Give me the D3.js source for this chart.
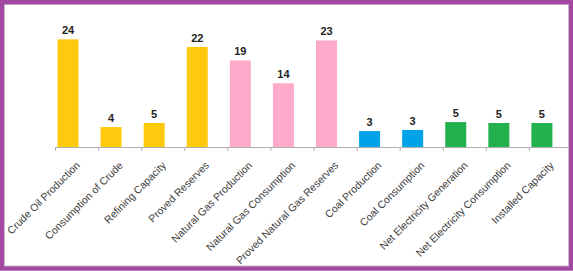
<!DOCTYPE html>
<html><head><meta charset="utf-8">
<script src="https://cdn.jsdelivr.net/npm/d3@7"></script>
<style>html,body{margin:0;padding:0;background:#fff;}svg{display:block;}</style>
</head><body>
<script>
const categories = ["Crude Oil Production","Consumption of Crude","Refining Capacity","Proved Reserves","Natural Gas Production","Natural Gas Consumption","Proved Natural Gas Reserves","Coal Production","Coal Consumption","Net Electricity Generation","Net Electricity Consumption","Installed Capacity"];
const values = [24, 4.45, 5.35, 22.3, 19.3, 14.2, 23.75, 3.55, 3.8, 5.55, 5.35, 5.35];
const labels = ["24","4","5","22","19","14","23","3","3","5","5","5"];
const groups = ["oil","oil","oil","oil","gas","gas","gas","coal","coal","elec","elec","elec"];
const groupColors = {oil:"#FFC90E", gas:"#FFAACA", coal:"#00A2E8", elec:"#22B14C"};

const W = 573, H = 271;
const svg = d3.select("body").append("svg").attr("width", W).attr("height", H);
svg.append("rect").attr("x",0).attr("y",0).attr("width",W).attr("height",H).attr("fill","#fff");

const x = d3.scaleBand().domain(categories).range([55, 572]).paddingInner(0).paddingOuter(0);
const y = d3.scaleLinear().domain([0, 24]).range([147, 39.3]);

// bars
svg.selectAll("rect.bar").data(categories).join("rect")
  .attr("class","bar")
  .attr("x", d => x(d) + 2.5)
  .attr("width", 21)
  .attr("y", (d,i) => y(values[i]))
  .attr("height", (d,i) => y(0) - y(values[i]))
  .attr("fill", (d,i) => groupColors[groups[i]]);

// value labels
svg.selectAll("text.val").data(categories).join("text")
  .attr("class","val")
  .attr("x", d => x(d) + 13)
  .attr("y", (d,i) => y(values[i]) - 5)
  .attr("text-anchor","middle")
  .attr("font-family","Liberation Sans, Arial, sans-serif")
  .attr("font-weight","bold")
  .attr("font-size","11px")
  .attr("fill","#222")
  .text((d,i) => labels[i]);

// axis
const axis = d3.axisBottom(x).tickSize(4).tickFormat("");
const g = svg.append("g").attr("transform","translate(0,147)").call(axis);
g.select(".domain").attr("stroke","#b0b0b0").attr("d","M55,0.5H568");
g.selectAll(".tick").attr("transform", d => `translate(${x(d)+0.5},0)`);
g.selectAll(".tick line").attr("stroke","#b0b0b0");

// category labels
svg.selectAll("text.cat").data(categories).join("text")
  .attr("class","cat")
  .attr("transform", d => `translate(${x(d) + x.bandwidth()/2 + 4},166) rotate(-45)`)
  .attr("text-anchor","end")
  .attr("font-family","Liberation Sans, Arial, sans-serif")
  .attr("font-size","10.5px")
  .attr("fill","#404040")
  .text(d => d);

// frame
svg.append("rect").attr("x",4.5).attr("y",4.5).attr("width",W-9).attr("height",H-10)
  .attr("fill","none").attr("stroke","#d8d8d8").attr("stroke-width",1);
svg.append("rect").attr("x",2).attr("y",2.2).attr("width",W-4).attr("height",H-4.7)
  .attr("fill","none").attr("stroke","#A349A4").attr("stroke-width",4.4);
</script>
</body></html>
